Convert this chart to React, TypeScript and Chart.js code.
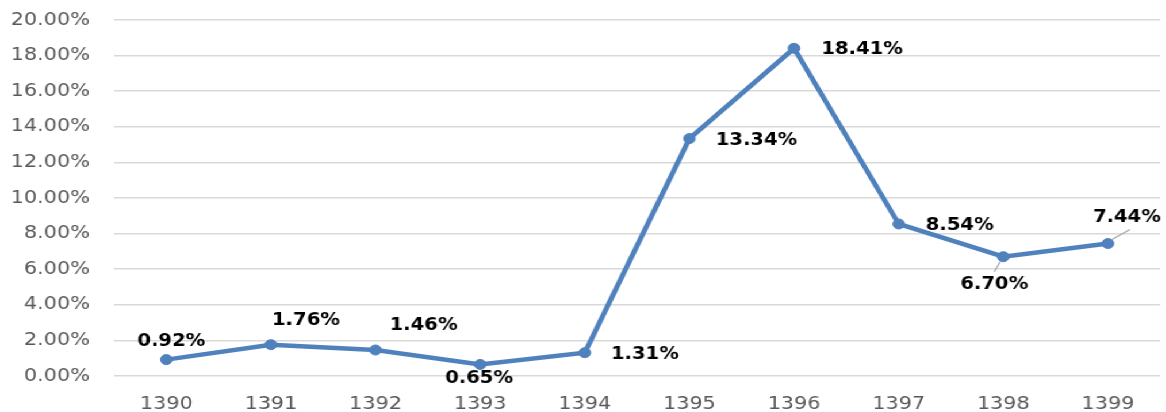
import React, { useEffect, useRef } from "react";
import { Chart, registerables } from "chart.js";

Chart.register(...registerables);

// Annual rate by Persian calendar year
const years = ["1390", "1391", "1392", "1393", "1394", "1395", "1396", "1397", "1398", "1399"];
const rates = [0.92, 1.76, 1.46, 0.65, 1.31, 13.34, 18.41, 8.54, 6.70, 7.44];
const yTicks = [0, 2, 4, 6, 8, 10, 12, 14, 16, 18, 20];

// Label placement relative to each point (display pixels), and which labels get a leader line
const labelOffsets: [number, number][] = [
  [5, -18], [35, -24], [48, -24], [-1, 14], [60, 2],
  [67, 2], [68, 1], [61, 2], [-9, 28], [19, -26],
];
const leaderLines: ([number, number, number, number] | null)[] = [
  null, null, null, null, null, null, null, null,
  [-3, 5, -9, 15], [4, -4, 22, -14],
];

const STRETCH = 1.15;
const BLUE = "#4F81BD";

const valueLabels = {
  id: "valueLabels",
  afterDatasetsDraw(chart: Chart) {
    const ctx = chart.ctx;
    const meta = chart.getDatasetMeta(0);
    ctx.save();
    meta.data.forEach((pt: any, i: number) => {
      const ln = leaderLines[i];
      if (ln) {
        ctx.strokeStyle = "#A6A6A6";
        ctx.lineWidth = 1.2;
        ctx.beginPath();
        ctx.moveTo(pt.x + ln[0] / STRETCH, pt.y + ln[1]);
        ctx.lineTo(pt.x + ln[2] / STRETCH, pt.y + ln[3]);
        ctx.stroke();
      }
      const [dx, dy] = labelOffsets[i];
      ctx.font = "bold 17px 'DejaVu Sans'";
      ctx.fillStyle = "#000000";
      ctx.textAlign = "center";
      ctx.textBaseline = "middle";
      ctx.fillText(rates[i].toFixed(2) + "%", pt.x + dx / STRETCH, pt.y + dy);
    });
    ctx.restore();
  },
};

export default function App() {
  const canvasRef = useRef<HTMLCanvasElement | null>(null);

  useEffect(() => {
    if (!canvasRef.current) return;
    const chart = new Chart(canvasRef.current, {
      type: "line",
      data: {
        labels: years,
        datasets: [
          {
            data: rates,
            borderColor: BLUE,
            backgroundColor: BLUE,
            borderWidth: 4.5,
            pointRadius: 5,
            pointBorderWidth: 1,
            pointHoverRadius: 5,
            pointBackgroundColor: BLUE,
            pointBorderColor: BLUE,
            tension: 0,
          },
        ],
      },
      options: {
        animation: false,
        responsive: true,
        maintainAspectRatio: false,
        layout: { padding: { top: 20, right: 5, left: 0, bottom: 0 } },
        plugins: { legend: { display: false }, tooltip: { enabled: false } },
        scales: {
          x: {
            offset: true,
            grid: { display: false, drawTicks: false },
            border: { display: false },
            ticks: {
              padding: 18,
              color: "#595959",
              font: { family: "'DejaVu Sans'", size: 18 },
              maxRotation: 0,
            },
            afterFit: (s: any) => {
              s.height = 36;
            },
          },
          y: {
            min: 0,
            max: 20,
            afterBuildTicks: (s: any) => {
              s.ticks = yTicks.map((v) => ({ value: v }));
            },
            grid: { color: "#D9D9D9", lineWidth: 1.5, drawTicks: false },
            border: { display: false },
            ticks: {
              padding: 21,
              color: "#595959",
              font: { family: "'DejaVu Sans'", size: 18 },
              callback: (v: any) => Number(v).toFixed(2) + "%",
            },
            afterFit: (s: any) => {
              s.width = 99;
              s.paddingTop = 0;
              s.paddingBottom = 0;
            },
          },
        },
      },
      plugins: [valueLabels],
    });
    return () => chart.destroy();
  }, []);

  return (
    <div
      style={{
        position: "fixed",
        left: 0,
        top: 0,
        width: 1166 / STRETCH,
        height: 412,
        transform: `scaleX(${STRETCH})`,
        transformOrigin: "0 0",
        background: "#ffffff",
      }}
    >
      <canvas ref={canvasRef} />
    </div>
  );
}
